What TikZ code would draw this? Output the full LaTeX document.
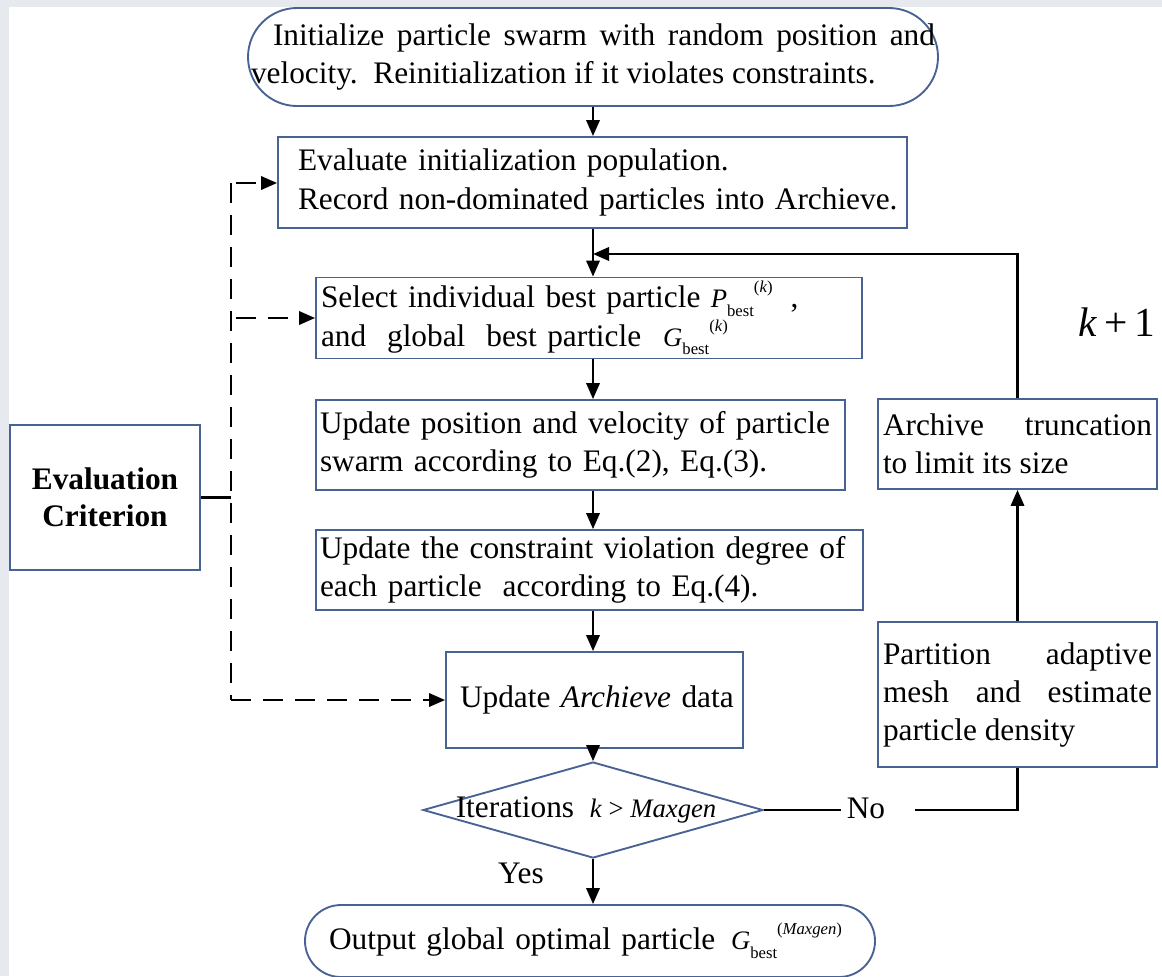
\documentclass[tikz,border=0pt]{standalone}
\usepackage{fontspec}
\setmainfont{Liberation Serif}
\usetikzlibrary{arrows.meta,shapes.geometric}
\newdimen\pxu \pxu=0.75pt
\definecolor{bcol}{RGB}{72,98,148}
\definecolor{bgcol}{RGB}{230,233,238}
\newcommand\bvar[2]{{\fontsize{20}{20}\selectfont\textit{#1}}\raisebox{-0.6ex}{\fontsize{12.5}{12.5}\selectfont best}\raisebox{1.05ex}{\fontsize{12.5}{12.5}\selectfont(\textit{#2})}}
\begin{document}
\begin{tikzpicture}[x=0.75pt,y=-0.75pt,
  every node/.style={font=\fontsize{23.5}{29}\selectfont},
  box/.style={draw=bcol, line width=1.4pt, fill=white, inner ysep=0pt, inner xsep=2\pxu, align=left},
  tip/.style={-{Triangle[length=12pt,width=10pt]}},
  arr/.style={line width=1.8pt, tip},
  plainline/.style={line width=1.8pt},
  dline/.style={line width=1.8pt, dash pattern=on 15pt off 9pt},
]
\fill[bgcol] (0,0) rectangle (1162,976);
\fill[white] (9,7) rectangle (1162,976);
\useasboundingbox (0,0) rectangle (1162,976);

\coordinate (axis) at (593,0);

\node[box, rounded corners=49\pxu, minimum width=690\pxu, minimum height=98\pxu, text width=684\pxu, align=justify] (start) at (593,57)
  {\hspace*{22\pxu}Initialize particle swarm with random position and\linebreak velocity.\ \ Reinitialization if it violates constraints.};

\node[box, minimum width=629\pxu, minimum height=91\pxu, text width=625\pxu] (b1) at (592.5,182.5)
  {\hspace*{18\pxu}Evaluate initialization population.\\\hspace*{18\pxu}Record non-dominated particles into Archieve.};

\node[box, minimum width=546\pxu, minimum height=81\pxu, inner xsep=5\pxu, text width=536\pxu] (b2) at (589,318)
  {Select individual best particle \bvar{P}{k}\hspace{18\pxu},\\and\ \ global\ \ best particle\hspace{22\pxu}\bvar{G}{k}};

\node[box, minimum width=529\pxu, minimum height=90\pxu, inner xsep=4\pxu, text width=521\pxu, align=left] (b3) at (580.5,445)
  {\parbox{510\pxu}{\fontsize{23.5}{29}\selectfont Update position and velocity of particle\linebreak swarm according to Eq.(2), Eq.(3).}};

\node[box, minimum width=547\pxu, minimum height=80\pxu, inner xsep=4\pxu, text width=539\pxu] (b4) at (589.5,570)
  {Update the constraint violation degree of\\each particle\ \ according to Eq.(4).};

\node[box, minimum width=297\pxu, minimum height=96\pxu, inner xsep=2\pxu, text width=293\pxu] (b5) at (594.5,700)
  {\hspace*{12\pxu}Update \textit{Archieve} data};

\node[draw=bcol, line width=1.4pt, fill=white, diamond, inner sep=0pt, minimum width=340\pxu, minimum height=96\pxu] (dec) at (593,810)
  {\makebox[0pt]{\hspace*{-14\pxu}Iterations\ \ {\fontsize{20}{20}\selectfont\textit{k} > \textit{Maxgen}}}};

\node[box, rounded corners=36\pxu, minimum width=570\pxu, minimum height=72\pxu, inner xsep=2\pxu, text width=566\pxu] (out) at (590,941)
  {\hspace*{22\pxu}Output global optimal particle \,\bvar{G}{Maxgen}};

\node[box, minimum width=190\pxu, minimum height=145\pxu, text width=186\pxu, align=center, font=\fontsize{23.5}{28}\selectfont\bfseries] (eval) at (105,497.5)
  {Evaluation\\Criterion};

\node[box, minimum width=279\pxu, minimum height=90\pxu, inner xsep=5\pxu, text width=269\pxu, align=justify, font=\fontsize{23.5}{28.5}\selectfont] (arc) at (1017.5,444)
  {Archive truncation\linebreak to limit its size};

\node[box, minimum width=279\pxu, minimum height=145\pxu, inner xsep=5\pxu, text width=269\pxu, align=justify, font=\fontsize{23.5}{28.5}\selectfont] (part) at (1017.5,694.5)
  {Partition adaptive\linebreak mesh and estimate\linebreak particle density};

\node[inner sep=0pt] (kp) at (1117,322) {\fontsize{31}{31}\selectfont\textit{k}\,+\,1};
\node[inner sep=0pt] (no) at (866,808) {No};
\node[inner sep=0pt] (yes) at (521,873) {Yes};

% main flow
\draw[arr] (axis |- start.south) -- (axis |- b1.north);
\draw[arr] (axis |- b1.south) -- (axis |- b2.north);
\draw[arr] (axis |- b2.south) -- (axis |- b3.north);
\draw[arr] (axis |- b3.south) -- (axis |- b4.north);
\draw[arr] (axis |- b4.south) -- (axis |- b5.north);
\draw[arr] (axis |- b5.south) -- (dec.north);
\draw[arr] (dec.south) -- (axis |- out.north);

% loop
\coordinate (fb) at (0,254);
\draw[plainline] (dec.east) -- ([xshift=-6\pxu]no.west |- dec.east);
\draw[plainline] ([xshift=30\pxu]no.east |- dec.east) -| (part.south);
\draw[arr] (part.north) -- (arc.south);
\draw[arr] (arc.north) -- (arc.north |- fb) -- (axis |- fb);

% evaluation criterion links
\coordinate (dtop) at (231,183);
\coordinate (dmid) at (231,497.5);
\coordinate (dbot) at (231,700);
\draw[plainline] (eval.east) -- (dmid);
\draw[dline] (dtop) -- (dbot);
\draw[dline, tip] ([xshift=5\pxu]dtop) -- (b1.west |- dtop);
\draw[dline, tip] ([xshift=5\pxu]dtop |- b2.west) -- (b2.west);
\draw[dline, tip] (dbot) -- (b5.west |- dbot);
\end{tikzpicture}
\end{document}
